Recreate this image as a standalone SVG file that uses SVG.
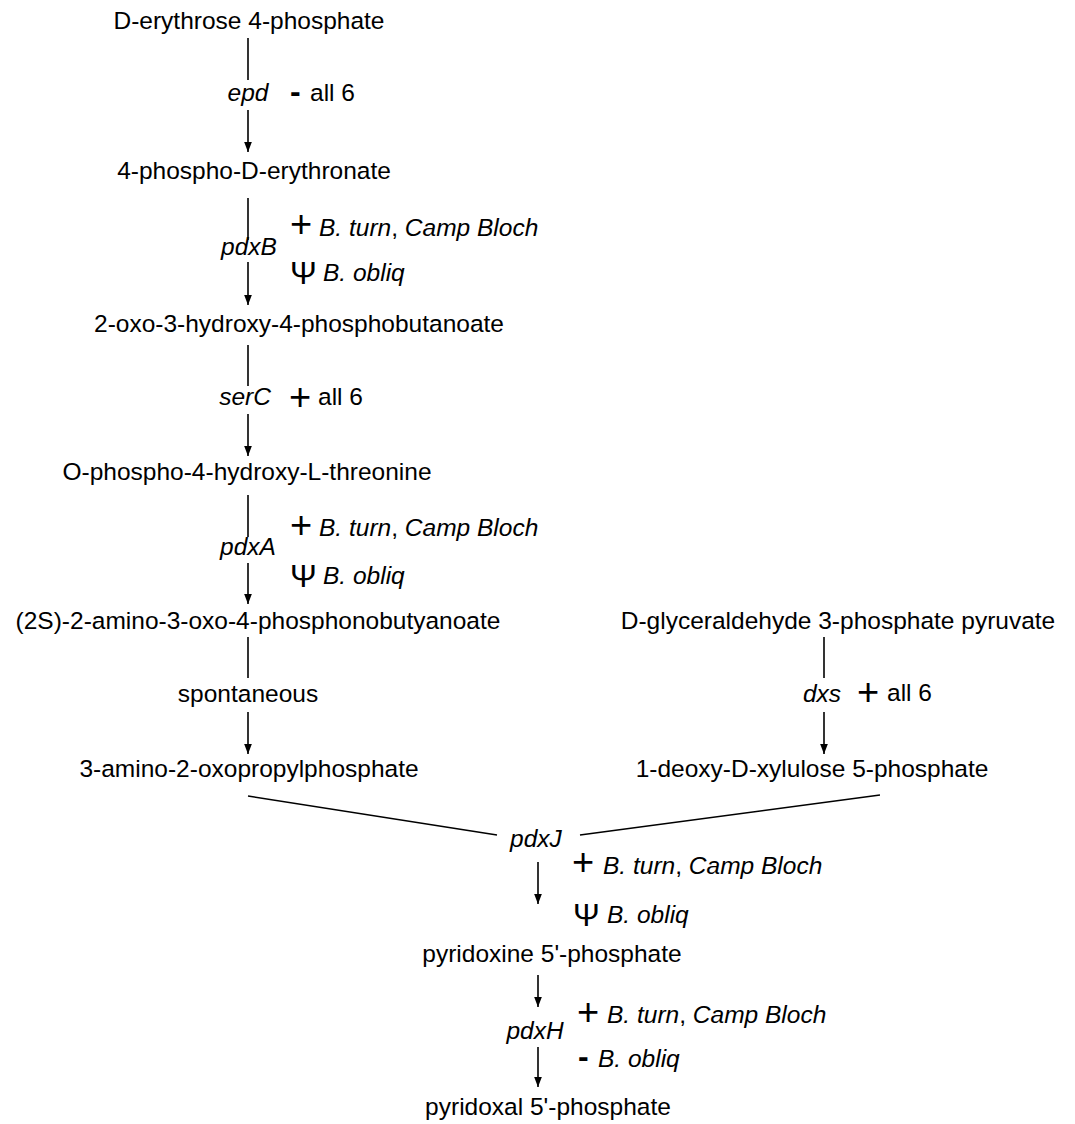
<svg xmlns="http://www.w3.org/2000/svg" width="1075" height="1124" viewBox="0 0 1075 1124">
<style>
text{font-family:"Liberation Sans",Arial,sans-serif;font-size:24.5px;fill:#000}
.m{text-anchor:middle}
.i{font-style:italic}
.s{font-size:38px}
.d{font-weight:bold;font-size:32px}
.p{font-size:32px}
#connectors line{stroke:#000;stroke-width:1.6;fill:none}
</style>
<defs>
<marker id="ah" markerUnits="userSpaceOnUse" markerWidth="10" markerHeight="14" refX="13" refY="5" orient="auto" viewBox="0 0 13 10">
<path d="M0,0 L13,5 L0,10 z" fill="#000"/>
</marker>
</defs>
<rect width="1075" height="1124" fill="#fff"/>
<g id="connectors">
<line x1="248" y1="38" x2="248" y2="80"/>
<line x1="248" y1="110" x2="248" y2="152" marker-end="url(#ah)"/>
<line x1="248" y1="198" x2="248" y2="240"/>
<line x1="248" y1="262" x2="248" y2="305" marker-end="url(#ah)"/>
<line x1="248" y1="345" x2="248" y2="386"/>
<line x1="248" y1="414" x2="248" y2="456" marker-end="url(#ah)"/>
<line x1="248" y1="495" x2="248" y2="537"/>
<line x1="248" y1="563" x2="248" y2="604" marker-end="url(#ah)"/>
<line x1="248" y1="637" x2="248" y2="678"/>
<line x1="248" y1="712" x2="248" y2="754" marker-end="url(#ah)"/>
<line x1="824" y1="637" x2="824" y2="678"/>
<line x1="824" y1="712" x2="824" y2="754" marker-end="url(#ah)"/>
<line x1="248" y1="796" x2="497" y2="835"/>
<line x1="580" y1="835" x2="880" y2="795"/>
<line x1="538" y1="862" x2="538" y2="904" marker-end="url(#ah)"/>
<line x1="538" y1="975" x2="538" y2="1007" marker-end="url(#ah)"/>
<line x1="538" y1="1047" x2="538" y2="1087" marker-end="url(#ah)"/>
</g>
<g id="n1"><text class="m" x="249" y="29">D-erythrose 4-phosphate</text></g>
<g id="n2"><text class="m" x="254" y="179">4-phospho-D-erythronate</text></g>
<g id="n3"><text class="m" x="299" y="332">2-oxo-3-hydroxy-4-phosphobutanoate</text></g>
<g id="n4"><text class="m" x="247" y="480">O-phospho-4-hydroxy-L-threonine</text></g>
<g id="n5"><text class="m" x="258" y="629">(2S)-2-amino-3-oxo-4-phosphonobutyanoate</text></g>
<g id="n6"><text class="m" x="249" y="777">3-amino-2-oxopropylphosphate</text></g>
<g id="n7"><text class="m" x="838" y="629">D-glyceraldehyde 3-phosphate pyruvate</text></g>
<g id="n8"><text class="m" x="812" y="777">1-deoxy-D-xylulose 5-phosphate</text></g>
<g id="n9"><text class="m" x="552" y="962">pyridoxine 5'-phosphate</text></g>
<g id="n10"><text class="m" x="548" y="1115">pyridoxal 5'-phosphate</text></g>
<g id="e-epd">
<text class="m i" x="248" y="101">epd</text>
<text class="d" x="290" y="102">-</text>
<text x="310" y="101">all 6</text>
</g>
<g id="e-pdxB">
<text class="m i" x="249" y="255">pdxB</text>
<text class="s" x="290" y="237">+</text>
<text x="319" y="236"><tspan class="i">B. turn</tspan>, <tspan class="i">Camp Bloch</tspan></text>
<text class="p" x="290" y="284">Ψ</text>
<text class="i" x="323" y="281">B. obliq</text>
</g>
<g id="e-serC">
<text class="m i" x="245" y="405">serC</text>
<text class="s" x="289" y="410">+</text>
<text x="318" y="405">all 6</text>
</g>
<g id="e-pdxA">
<text class="m i" x="248" y="555">pdxA</text>
<text class="s" x="290" y="538">+</text>
<text x="319" y="536"><tspan class="i">B. turn</tspan>, <tspan class="i">Camp Bloch</tspan></text>
<text class="p" x="290" y="587">Ψ</text>
<text class="i" x="323" y="584">B. obliq</text>
</g>
<g id="e-spont"><text class="m" x="248" y="702">spontaneous</text></g>
<g id="e-dxs">
<text class="m i" x="822" y="702">dxs</text>
<text class="s" x="857" y="705">+</text>
<text x="887" y="701">all 6</text>
</g>
<g id="e-pdxJ">
<text class="m i" x="536" y="847">pdxJ</text>
<text class="s" x="572" y="875">+</text>
<text x="603" y="874"><tspan class="i">B. turn</tspan>, <tspan class="i">Camp Bloch</tspan></text>
<text class="p" x="573" y="926">Ψ</text>
<text class="i" x="607" y="923">B. obliq</text>
</g>
<g id="e-pdxH">
<text class="m i" x="535" y="1039">pdxH</text>
<text class="s" x="577" y="1025">+</text>
<text x="607" y="1023"><tspan class="i">B. turn</tspan>, <tspan class="i">Camp Bloch</tspan></text>
<text class="d" x="578" y="1067">-</text>
<text class="i" x="598" y="1067">B. obliq</text>
</g>
</svg>
